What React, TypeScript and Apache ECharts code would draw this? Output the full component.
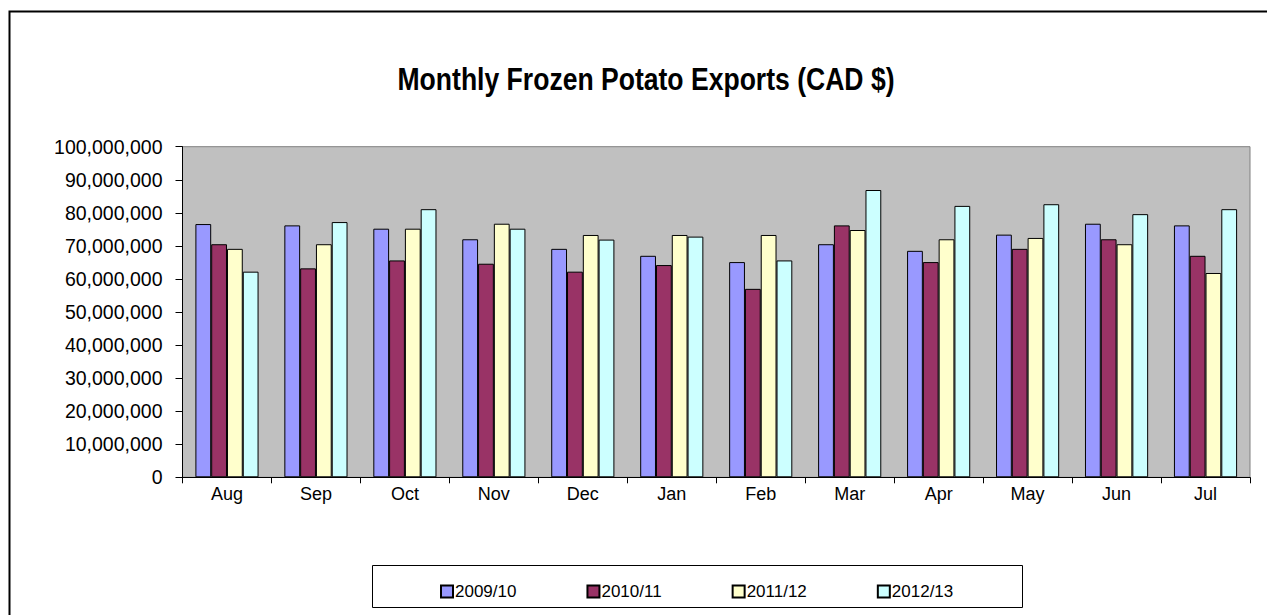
import React, { useEffect, useRef } from "react";
import * as echarts from "echarts";

const months = ["Aug", "Sep", "Oct", "Nov", "Dec", "Jan", "Feb", "Mar", "Apr", "May", "Jun", "Jul"];
const seriesNames = ["2009/10", "2010/11", "2011/12", "2012/13"];
const s2009 = [76.6, 76.2, 75.2, 72.0, 69.1, 67.0, 65.1, 70.5, 68.5, 73.4, 76.7, 76.2];
const s2010 = [70.5, 63.2, 65.6, 64.6, 62.2, 64.2, 57.0, 76.2, 65.1, 69.1, 72.0, 67.0];
const s2011 = [69.1, 70.5, 75.2, 76.7, 73.3, 73.3, 73.3, 74.8, 72.0, 72.4, 70.5, 61.8];
const s2012 = [62.2, 77.2, 81.1, 75.2, 71.9, 72.8, 65.6, 86.9, 82.1, 82.6, 79.6, 81.1];
const colors = ["#9999FF", "#993366", "#FFFFCC", "#CCFFFF"];

const FONT = "'Liberation Sans', Arial, sans-serif";

export default function App() {
  const ref = useRef<HTMLDivElement>(null);
  useEffect(() => {
    if (!ref.current) return;
    const chart = echarts.init(ref.current, null, { renderer: "svg" });
    const data = [s2009, s2010, s2011, s2012].map((arr) => arr.map((v) => Math.round(v * 1000000)));
    chart.setOption({
      animation: false,
      backgroundColor: "#ffffff",
      grid: {
        left: 182.5,
        top: 146.7,
        right: 17,
        bottom: 137.7,
        show: true,
        backgroundColor: "#C0C0C0",
        borderColor: "#808080",
        borderWidth: 1,
      },
      graphic: [
        {
          type: "rect",
          shape: { x: 9.5, y: 11.5, width: 1400, height: 800 },
          style: { fill: "none", stroke: "#000", lineWidth: 2 },
          silent: true,
        },
        {
          type: "text",
          x: 646,
          y: 79,
          scaleX: 0.83,
          style: {
            text: "Monthly Frozen Potato Exports (CAD $)",
            fontFamily: FONT,
            fontWeight: "bold",
            fontSize: 32,
            fill: "#000",
            align: "center",
            verticalAlign: "middle",
          },
        },
        {
          type: "rect",
          shape: { x: 372.5, y: 565.5, width: 650, height: 42 },
          style: { fill: "#fff", stroke: "#000", lineWidth: 1 },
          silent: true,
          z: -1,
        },
      ],
      legend: {
        data: seriesNames,
        left: 435,
        top: 578,
        itemWidth: 12,
        itemHeight: 12,
        itemGap: 70,
        icon: "rect",
        textStyle: { fontFamily: FONT, fontSize: 17, color: "#000", padding: [0, 0, 0, -3] },
      },
      xAxis: {
        type: "category",
        data: months,
        axisLine: { lineStyle: { color: "#000", width: 1 } },
        axisTick: { show: true, length: 6, interval: 0, lineStyle: { color: "#000" } },
        axisLabel: { fontFamily: FONT, fontSize: 18, color: "#000", margin: 8, interval: 0 },
        splitLine: { show: false },
      },
      yAxis: {
        type: "value",
        min: 0,
        max: 100000000,
        interval: 10000000,
        axisLine: { show: true, lineStyle: { color: "#000", width: 1 } },
        axisTick: { show: true, length: 7, lineStyle: { color: "#000" } },
        axisLabel: {
          fontFamily: FONT,
          fontSize: 19.5,
          color: "#000",
          margin: 20,
          formatter: (v: number) => v.toLocaleString("en-US"),
        },
        splitLine: { show: false },
      },
      series: seriesNames.map((name, i) => ({
        name,
        type: "bar",
        data: data[i],
        barGap: "0%",
        barCategoryGap: "29%",
        itemStyle: { color: colors[i], borderColor: "#000", borderWidth: 1 },
      })),
    });
    return () => chart.dispose();
  }, []);
  return (
    <div
      ref={ref}
      style={{ position: "fixed", left: 0, top: 0, width: 1267, height: 615, background: "#fff" }}
    />
  );
}
